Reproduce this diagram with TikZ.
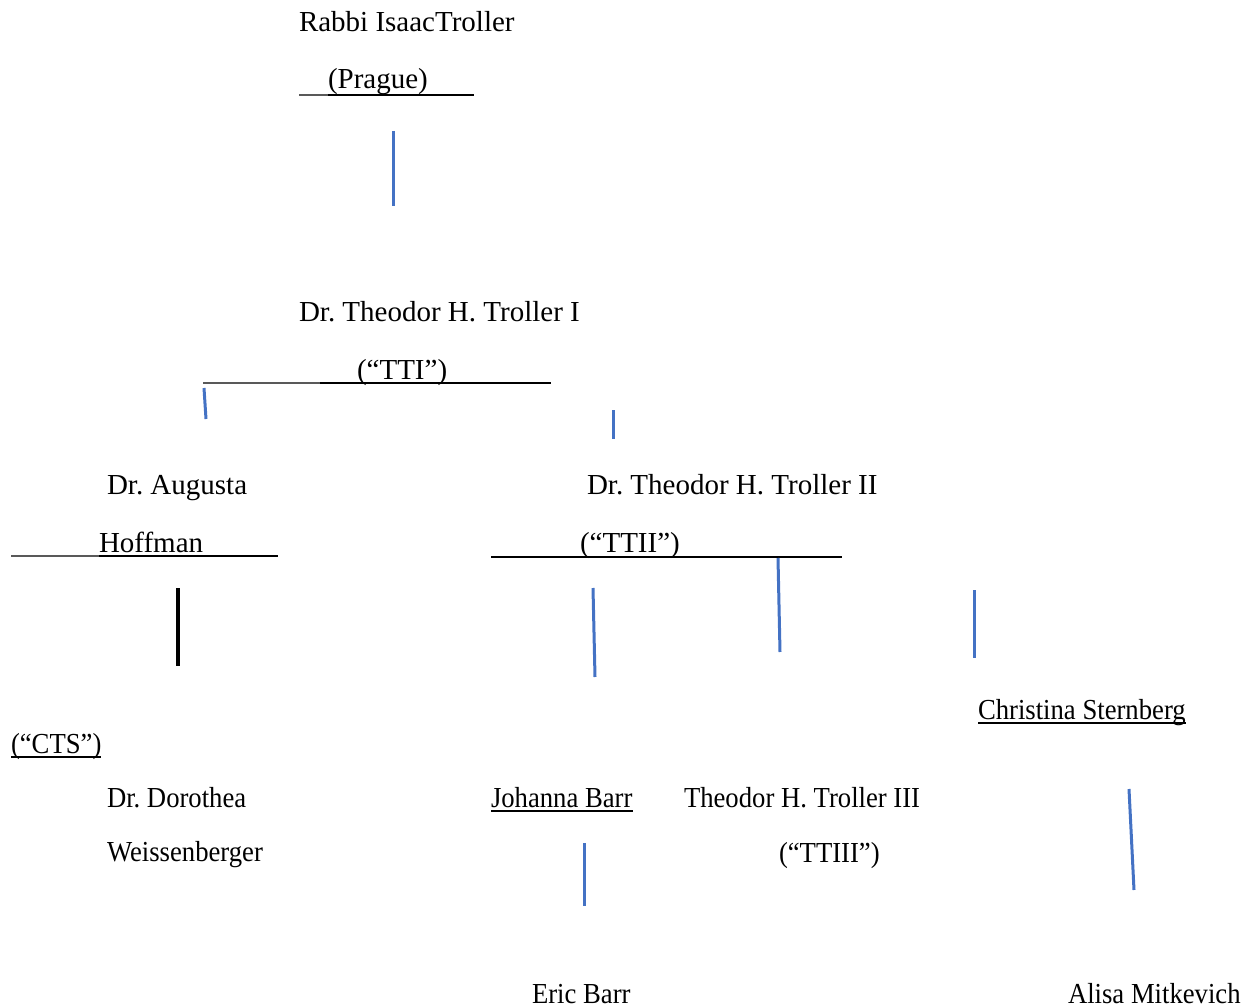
\documentclass[tikz,border=0pt]{standalone}
\usepackage{fontspec}
\setmainfont{Liberation Serif}
\frenchspacing
\begin{document}
\begin{tikzpicture}[x=1pt,y=-1pt,
  txt/.style={anchor=base west,inner sep=0pt,outer sep=0pt,font=\fontsize{29}{35}\selectfont\frenchspacing},
  ntxt/.style={txt,xscale=0.92,transform shape},
  ul/.style={line width=2.4pt,black},
  thinul/.style={line width=1.6pt,black!65},
  link/.style={line width=3pt,color={rgb,255:red,68;green,114;blue,196}},
  blk/.style={line width=3.2pt,black}]
\useasboundingbox (0,0) rectangle (1251,1008);
% texts
\node[txt] (rabbi) at (299,32) {Rabbi IsaacTroller};
\node[txt] (prague) at (328,89) {(Prague)};
\node[txt] (tti1) at (299,322) {Dr. Theodor H. Troller I};
\node[txt] (tti2) at (357,380) {(“TTI”)};
\node[txt] (aug1) at (107,494) {Dr. Augusta};
\node[txt] (aug2) at (99,552) {Hoffman};
\node[txt] (ttii1) at (587,494) {Dr. Theodor H. Troller II};
\node[txt] (ttii2) at (580,552) {(“TTII”)};
\node[ntxt] (cts) at (11,753) {(“CTS”)};
\node[ntxt] (chris) at (978,719) {Christina Sternberg};
\node[ntxt] (doro1) at (107,807) {Dr. Dorothea};
\node[ntxt] (doro2) at (107,861) {Weissenberger};
\node[ntxt] (joh) at (491,807) {Johanna Barr};
\node[ntxt] (ttiii1) at (684,807) {Theodor H. Troller III};
\node[ntxt] (ttiii2) at (779,862) {(“TTIII”)};
\node[ntxt] (eric) at (532,1003) {Eric Barr};
\node[ntxt] (alisa) at (1068,1003) {Alisa Mitkevich};
% underline coordinates
\coordinate (pA) at (299,95); \coordinate (pB) at (328,95);
\coordinate (pC) at (430,95); \coordinate (pD) at (474,95);
\coordinate (tA) at (203,383); \coordinate (tB) at (320,383); \coordinate (tC) at (551,383);
\coordinate (hA) at (11,556); \coordinate (hB) at (99,556); \coordinate (hC) at (278,556);
\coordinate (iA) at (491,557); \coordinate (iB) at (679,557); \coordinate (iC) at (842,557);
\coordinate (cA) at (11,757); \coordinate (cB) at (101,757);
\coordinate (sA) at (978,723); \coordinate (sB) at (1186,723);
\coordinate (jA) at (491,811); \coordinate (jB) at (633,811);
\draw[thinul] (pA) -- (pB);
\draw[ul] (pB) -- (pC) -- (pD);
\draw[thinul] (tA) -- (tB);
\draw[ul] (tB) -- (tC);
\draw[thinul] (hA) -- (hB);
\draw[ul] (hB) -- (hC);
\draw[ul] (iA) -- (iB);
\draw[ul] (iB) -- (iC);
\draw[ul] (cA) -- (cB);
\draw[ul] (sA) -- (sB);
\draw[ul] (jA) -- (jB);
% connector ends
\coordinate (l1a) at (393,131); \coordinate (l1b) at (393,206);
\coordinate (l2a) at (204,388); \coordinate (l2b) at (206,419);
\coordinate (l3a) at (613,410); \coordinate (l3b) at (613,439);
\coordinate (l4a) at (593,588); \coordinate (l4b) at (595,677);
\coordinate (l5a) at (778,558); \coordinate (l5b) at (780,652);
\coordinate (l6a) at (974,590); \coordinate (l6b) at (974,658);
\coordinate (l7a) at (1129,789); \coordinate (l7b) at (1134,890);
\coordinate (l8a) at (584,843); \coordinate (l8b) at (584,906);
\coordinate (l9a) at (178,588); \coordinate (l9b) at (178,666);
\draw[link] (l1a) -- (l1b);
\draw[link] (l2a) -- (l2b);
\draw[link] (l3a) -- (l3b);
\draw[link] (l4a) -- (l4b);
\draw[link] (l5a) -- (l5b);
\draw[link] (l6a) -- (l6b);
\draw[link] (l7a) -- (l7b);
\draw[link] (l8a) -- (l8b);
\draw[blk] (l9a) -- (l9b);
\end{tikzpicture}
\end{document}
